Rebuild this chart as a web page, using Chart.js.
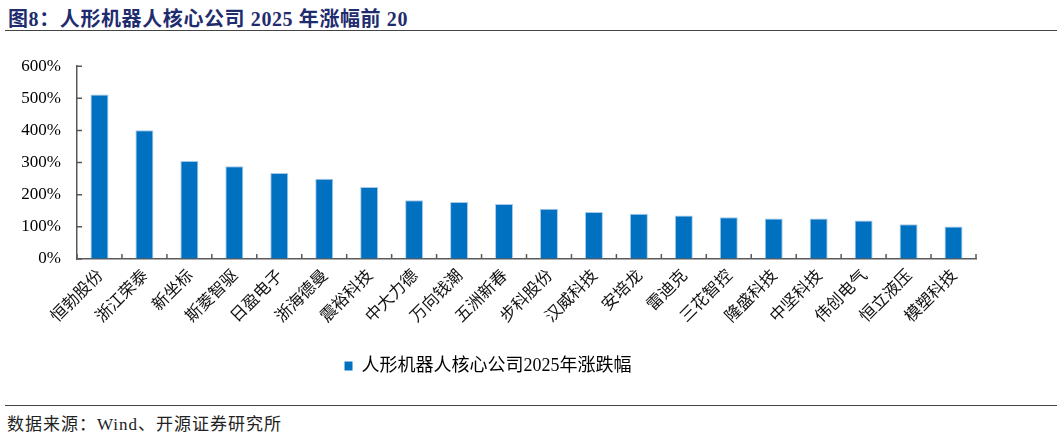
<!DOCTYPE html>
<html>
<head>
<meta charset="utf-8">
<script src="https://cdn.jsdelivr.net/npm/chart.js@4"></script>
<style>
  body { margin: 0; background: #fff; width: 1057px; height: 436px; position: relative; overflow: hidden; }
  .title { position: absolute; left: 8px; top: 3px; font: bold 20px "Liberation Serif", "Noto Sans CJK SC", serif; color: #1f2c6e; letter-spacing: 0.6px; white-space: nowrap; }
  .rule { position: absolute; left: 5px; right: 0; height: 0; border-top: 1.5px solid #444; }
  .source { position: absolute; left: 7px; top: 410px; font: 17px "Liberation Serif", "Noto Sans CJK SC", serif; color: #222; letter-spacing: 1px; white-space: nowrap; }
  #wrap { position: absolute; left: 0; top: 40px; width: 1057px; height: 345px; }
</style>
</head>
<body>
<div class="title">图8：人形机器人核心公司 2025 年涨幅前 20</div>
<div class="rule" style="top:30px"></div>
<div id="wrap"><canvas id="barChart"></canvas></div>
<div class="rule" style="top:405px"></div>
<div class="source">数据来源：Wind、开源证券研究所</div>
<script>
// data
const companies = ['恒勃股份', '浙江荣泰', '新坐标', '斯菱智驱', '日盈电子', '浙海德曼', '震裕科技', '中大力德', '万向钱潮', '五洲新春',
    '步科股份', '汉威科技', '安培龙', '雷迪克', '三花智控', '隆盛科技', '中坚科技', '伟创电气', '恒立液压', '模塑科技'];
const gains = [512, 401, 305, 289, 268, 250, 224, 183, 177, 171, 156, 146, 141, 135, 130, 126, 126, 120, 108, 101];
const yTicks = [0, 100, 200, 300, 400, 500, 600];
const seriesName = '人形机器人核心公司2025年涨跌幅';

const axisColor = '#595959';

// small tick marks pointing into the plot, like the original
const innerTicks = {
    id: 'innerTicks',
    afterDraw(chart) {
        const { ctx, scales: { x, y } } = chart;
        ctx.save();
        ctx.strokeStyle = axisColor;
        ctx.lineWidth = 1.5;
        ctx.beginPath();
        yTicks.forEach(v => {
            const py = y.getPixelForValue(v);
            ctx.moveTo(x.left, py);
            ctx.lineTo(x.left + 5, py);
        });
        for (let i = 0; i <= companies.length; i++) {
            const px = x.getPixelForValue(i - 0.5);
            ctx.moveTo(px, y.bottom);
            ctx.lineTo(px, y.bottom - 5);
        }
        ctx.stroke();
        ctx.restore();
    }
};

new Chart(document.getElementById('barChart'), {
    type: 'bar',
    data: {
        labels: companies,
        datasets: [{
            label: seriesName,
            data: gains,
            backgroundColor: '#0070c0',
            borderColor: 'rgba(157, 195, 230, 0.9)',
            borderWidth: 1,
            borderSkipped: 'bottom',
            barPercentage: 0.4,
            categoryPercentage: 1
        }]
    },
    options: {
        responsive: true,
        maintainAspectRatio: false,
        animation: false,
        layout: { padding: { top: 24, right: 81, left: 0, bottom: 0 } },
        plugins: {
            tooltip: { enabled: false },
            legend: {
                position: 'bottom',
                labels: {
                    boxWidth: 8,
                    boxHeight: 9,
                    padding: 10,
                    color: '#000',
                    font: { family: '"Liberation Serif", "Noto Sans CJK SC"', size: 18 },
                    generateLabels: (chart) => Chart.defaults.plugins.legend.labels.generateLabels(chart)
                        .map(l => ({ ...l, lineWidth: 0 }))
                }
            }
        },
        scales: {
            x: {
                grid: { display: true, drawOnChartArea: false, drawTicks: false },
                border: { display: true, color: axisColor, width: 1.5 },
                ticks: {
                    minRotation: 45,
                    maxRotation: 45,
                    autoSkip: false,
                    padding: 6,
                    color: '#111',
                    font: { family: '"Noto Sans CJK SC"', size: 16.5 }
                },
                afterFit: s => { s.height = 88; }
            },
            y: {
                min: 0,
                max: 600,
                grid: { display: true, drawOnChartArea: false, drawTicks: false },
                border: { display: true, color: axisColor, width: 1.5 },
                ticks: {
                    stepSize: 100,
                    padding: 16,
                    color: '#000',
                    font: { family: '"Liberation Serif"', size: 17 },
                    callback: v => v + '%'
                },
                afterFit: s => { s.width = 77; }
            }
        }
    },
    plugins: [innerTicks]
});
</script>
</body>
</html>
